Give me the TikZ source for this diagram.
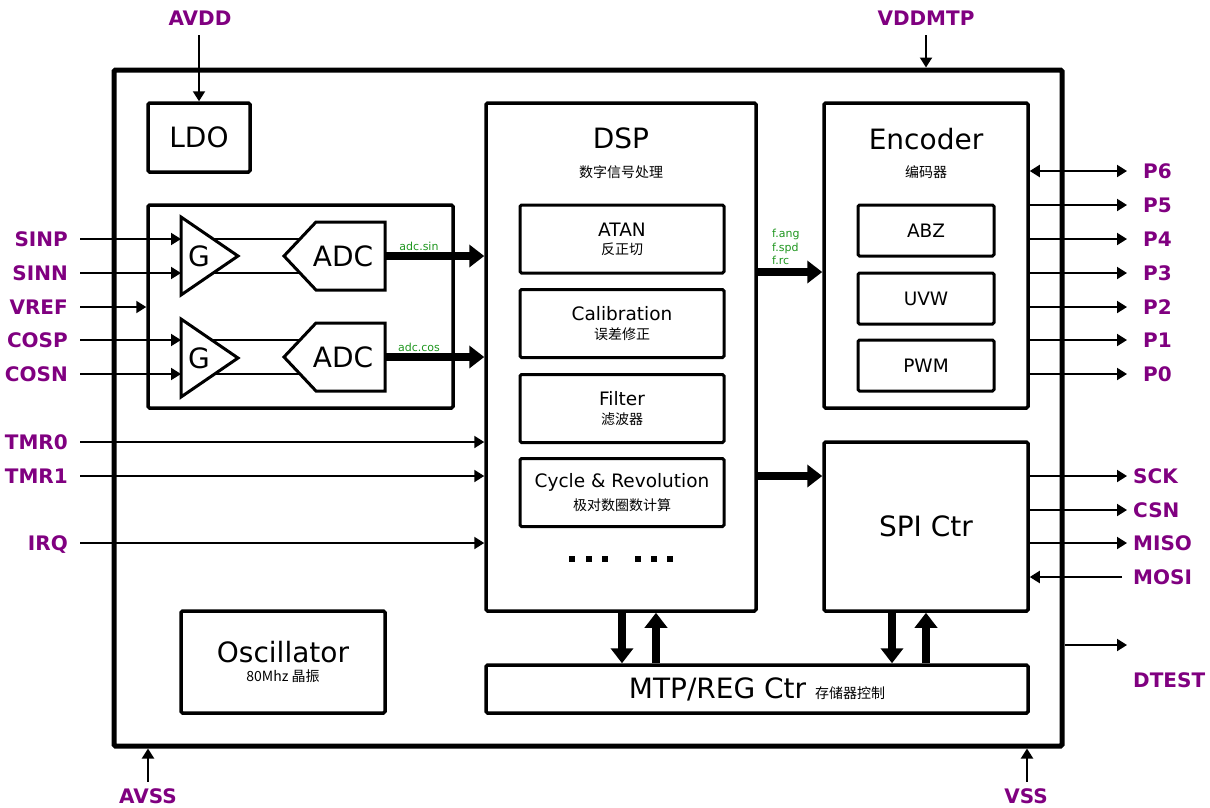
\documentclass[tikz,border=0pt]{standalone}
\usepackage{fontspec}
\setmainfont{DejaVu Sans}
\newfontfamily\cjk{Noto Sans CJK SC}
\usepackage{xcolor}
\usetikzlibrary{arrows.meta}
\definecolor{pinpurple}{RGB}{128,0,128}
\definecolor{busgreen}{RGB}{30,150,30}
\newcommand{\bigtxt}{\fontsize{28}{30}\selectfont}
\newcommand{\midtxt}{\fontsize{18.5}{20}\selectfont}
\newcommand{\cntxt}{\fontsize{14}{16}\selectfont\cjk}
\tikzset{
    blk/.style = {draw, fill=white, line width=3.5pt, rounded corners=1.5pt, inner sep=0pt},
    subblk/.style = {blk, line width=3pt, minimum width=204pt, minimum height=68pt, align=center},
    encblk/.style = {blk, line width=3pt, minimum width=136pt, minimum height=51pt, font=\midtxt},
    amp/.style = {draw, fill=white, line width=3pt, line join=miter},
    pin/.style = {font=\fontsize{20}{20}\selectfont\bfseries, text=pinpurple, inner sep=0pt, text height=14pt, text depth=0pt},
    sig/.style = {line width=2pt, -{Triangle[length=10pt,width=12pt]}},
    bus/.style = {line width=8pt, -{Triangle[length=15pt,width=22pt]}},
    buslabel/.style = {font=\fontsize{11}{13.5}\selectfont, text=busgreen, inner sep=0pt},
}

\begin{document}
\begin{tikzpicture}[x=1pt,y=-1pt]
\useasboundingbox (0,0) rectangle (1210,807);
% chip outline
\node[blk, line width=5pt, minimum width=948pt, minimum height=676pt] (chip) at (588,408) {};

% supply pins
\node[pin] (avdd) at (200,18) {AVDD};
\node[pin] (vddmtp) at (926,18) {VDDMTP};
\node[pin] (avss) at (148,796) {AVSS};
\node[pin] (vss) at (1026,796) {VSS};

% blocks
\node[blk, minimum width=102pt, minimum height=69pt, font=\bigtxt] (ldo) at (199,137.5) {LDO};
\node[blk, minimum width=305pt, minimum height=203pt] (afe) at (300.5,306.5) {};
\node[blk, minimum width=270pt, minimum height=508pt] (dsp) at (621,357) {};
\node[font=\bigtxt, anchor=base] (dsptitle) at (621,148) {DSP};
\node[font=\cntxt, anchor=base] (dspsub) at (621,177) {数字信号处理};
\node[subblk] (atan) at (622,239) {\midtxt ATAN\\[6pt]\cntxt 反正切};
\node[subblk] (calib) at (622,323.5) {\midtxt Calibration\\[6pt]\cntxt 误差修正};
\node[subblk] (filt) at (622,408.5) {\midtxt Filter\\[6pt]\cntxt 滤波器};
\node[subblk] (cycle) at (622,492.5) {\midtxt Cycle \& Revolution\\[6pt]\cntxt 极对数圈数计算};
\foreach \x in {572,589,605,638,654,670}
    \fill (\x-3,556) rectangle +(6,6);

\node[blk, minimum width=204pt, minimum height=305pt] (enc) at (926,255.5) {};
\node[font=\bigtxt, anchor=base] (enctitle) at (926,149) {Encoder};
\node[font=\cntxt, anchor=base] (encsub) at (926,177) {编码器};
\node[encblk] (abz) at (926,230.5) {ABZ};
\node[encblk] (uvw) at (926,298.5) {UVW};
\node[encblk] (pwm) at (926,365.5) {PWM};

\node[blk, minimum width=204pt, minimum height=169pt, font=\bigtxt] (spi) at (926,526.5) {SPI Ctr};
\node[blk, minimum width=542pt, minimum height=48pt] (mtp) at (757,689) {\bigtxt MTP/REG Ctr \cntxt 存储器控制};
\node[blk, minimum width=204pt, minimum height=102pt, align=center] (osc) at (283,662) {\bigtxt Oscillator\\[6pt]\cntxt 80Mhz 晶振};

% analog front end
\draw[line width=1.5pt] (200,239) -- (330,239) (200,273) -- (330,273);
\draw[line width=1.5pt] (200,340) -- (330,340) (200,374) -- (330,374);
\draw[amp] (181,217) -- (238,256) -- (181,295) -- cycle;
\draw[amp] (181,319) -- (238,358) -- (181,397) -- cycle;
\draw[amp] (385,222) -- (316,222) -- (284,256) -- (316,290) -- (385,290) -- cycle;
\draw[amp] (385,323) -- (316,323) -- (284,357) -- (316,391) -- (385,391) -- cycle;
\node[font=\bigtxt] (g1) at (199,256) {G};
\node[font=\bigtxt] (g2) at (199,358) {G};
\node[font=\bigtxt] (adc1) at (343,256) {ADC};
\node[font=\bigtxt] (adc2) at (343,357) {ADC};
\coordinate (adc1out) at (385,256);
\coordinate (adc2out) at (385,357);
\coordinate (g1a) at (181,239);
\coordinate (g1b) at (181,273);
\coordinate (g2a) at (181,340);
\coordinate (g2b) at (181,374);

% left pins
\node[pin, anchor=east] (sinp) at (68,239) {SINP};
\node[pin, anchor=east] (sinn) at (68,273) {SINN};
\node[pin, anchor=east] (vref) at (68,307) {VREF};
\node[pin, anchor=east] (cosp) at (68,340) {COSP};
\node[pin, anchor=east] (cosn) at (68,374) {COSN};
\node[pin, anchor=east] (tmr0) at (68,442) {TMR0};
\node[pin, anchor=east] (tmr1) at (68,476) {TMR1};
\node[pin, anchor=east] (irq) at (68,543) {IRQ};

% right pins
\node[pin, anchor=west] (p6) at (1143,171) {P6};
\node[pin, anchor=west] (p5) at (1143,205) {P5};
\node[pin, anchor=west] (p4) at (1143,239) {P4};
\node[pin, anchor=west] (p3) at (1143,273) {P3};
\node[pin, anchor=west] (p2) at (1143,307) {P2};
\node[pin, anchor=west] (p1) at (1143,340) {P1};
\node[pin, anchor=west] (p0) at (1143,374) {P0};
\node[pin, anchor=west] (sck) at (1133,476) {SCK};
\node[pin, anchor=west] (csn) at (1133,510) {CSN};
\node[pin, anchor=west] (miso) at (1133,543) {MISO};
\node[pin, anchor=west] (mosi) at (1133,577) {MOSI};
\node[pin, anchor=west] (dtest) at (1133,680) {DTEST};
\coordinate (dt) at (1127,645);

% supply connections
\draw[sig] ([yshift=-10pt]avdd.south -| ldo.north) -- (ldo.north);
\draw[sig] ([yshift=-10pt]vddmtp.south) -- (vddmtp |- chip.north);
\draw[sig] ([yshift=7pt]avss.north) -- (avss |- chip.south);
\draw[sig] ([xshift=1pt,yshift=7pt]vss.north) -- ([xshift=1pt]vss |- chip.south);

% inputs
\draw[sig] ([xshift=12pt]sinp.east) -- (g1a);
\draw[sig] ([xshift=12pt]sinn.east) -- (g1b);
\draw[sig] ([xshift=12pt]vref.east) -- (vref -| afe.west);
\draw[sig] ([xshift=12pt]cosp.east) -- (g2a);
\draw[sig] ([xshift=12pt]cosn.east) -- (g2b);
\draw[sig] ([xshift=12pt]tmr0.east) -- (tmr0 -| dsp.west);
\draw[sig] ([xshift=12pt]tmr1.east) -- (tmr1 -| dsp.west);
\draw[sig] ([xshift=12pt]irq.east) -- (irq -| dsp.west);

% outputs
\draw[sig, {Triangle[length=10pt,width=12pt]}-{Triangle[length=10pt,width=12pt]}] (p6 -| enc.east) -- ([xshift=-16pt]p6.west);
\draw[sig] (p5 -| enc.east) -- ([xshift=-16pt]p5.west);
\draw[sig] (p4 -| enc.east) -- ([xshift=-16pt]p4.west);
\draw[sig] (p3 -| enc.east) -- ([xshift=-16pt]p3.west);
\draw[sig] (p2 -| enc.east) -- ([xshift=-16pt]p2.west);
\draw[sig] (p1 -| enc.east) -- ([xshift=-16pt]p1.west);
\draw[sig] (p0 -| enc.east) -- ([xshift=-16pt]p0.west);
\draw[sig] (sck -| spi.east) -- ([xshift=-6pt]sck.west);
\draw[sig] (csn -| spi.east) -- ([xshift=-6pt]csn.west);
\draw[sig] (miso -| spi.east) -- ([xshift=-6pt]miso.west);
\draw[sig] ([xshift=-11pt]mosi.west) -- (mosi -| spi.east);
\draw[sig] (dt -| chip.east) -- (dt);

% data buses
\coordinate (fbus) at (790,272);
\coordinate (sbus) at (790,476);
\draw[bus] (adc1out) -- (adc1out -| dsp.west);
\draw[bus] (adc2out) -- (adc2out -| dsp.west);
\node[buslabel] (adcsin) at (419,246) {adc.sin};
\node[buslabel] (adccos) at (419,347) {adc.cos};
\draw[bus] (dsp.east |- fbus) -- (enc.west |- fbus);
\node[buslabel, anchor=west, align=left] (flabel) at (772,247) {f.ang\\f.spd\\f.rc};
\draw[bus] (dsp.east |- sbus) -- (spi.west |- sbus);
\draw[bus] ([xshift=1pt]dsp.south) -- ([xshift=1pt]dsp.south |- mtp.north);
\draw[bus] ([xshift=35pt]dsp.south |- mtp.north) -- ([xshift=35pt]dsp.south);
\draw[bus] ([xshift=-34pt]spi.south) -- ([xshift=-34pt]spi.south |- mtp.north);
\draw[bus] (spi.south |- mtp.north) -- (spi.south);
\end{tikzpicture}
\end{document}
